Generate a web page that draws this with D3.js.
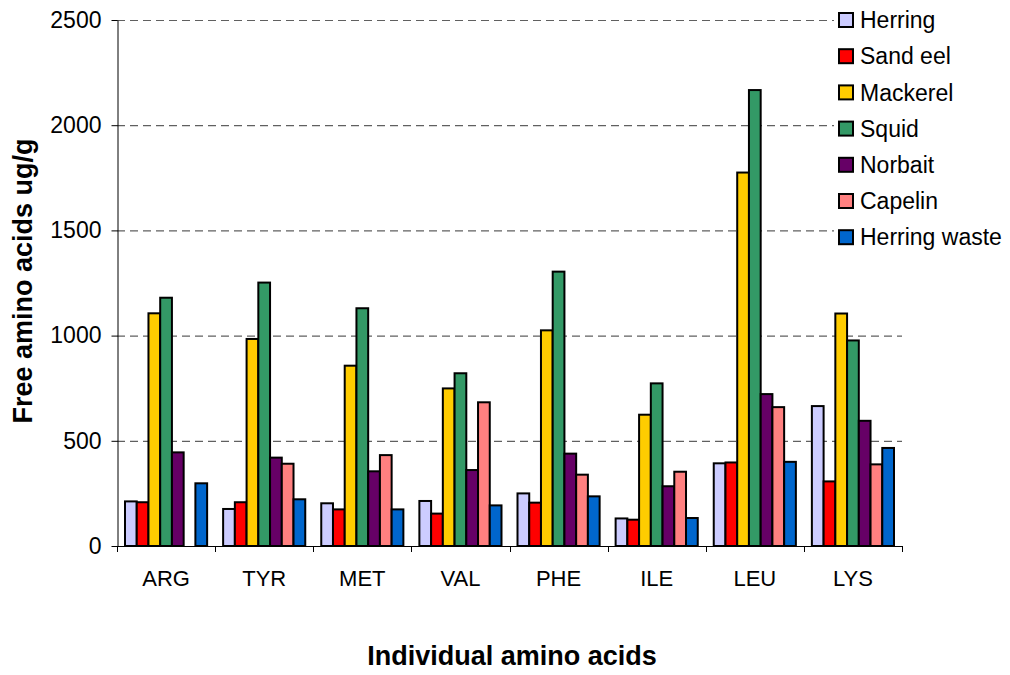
<!DOCTYPE html>
<html>
<head>
<meta charset="utf-8">
<script src="https://cdn.jsdelivr.net/npm/d3@7"></script>
<style>
  body { margin: 0; background: #fff; }
  svg { display: block; font-family: "Liberation Sans", Arial, sans-serif; }
</style>
</head>
<body>
<div id="chart"></div>
<script>
var acids = ["ARG", "TYR", "MET", "VAL", "PHE", "ILE", "LEU", "LYS"];
var baits = ["Herring", "Sand eel", "Mackerel", "Squid", "Norbait", "Capelin", "Herring waste"];
var colours = ["#CCCCFF", "#FF0000", "#FFCC00", "#339966", "#660066", "#FF8080", "#0066CC"];

// one array per bait, in the order of acids
var herring      = [212, 176, 203, 214, 250, 131, 393, 665];
var sandEel      = [208, 208, 174, 154, 206, 125, 397, 307];
var mackerel     = [1106, 984, 857, 749, 1025, 624, 1775, 1105];
var squid        = [1180, 1252, 1130, 821, 1304, 773, 2167, 977];
var norbait      = [445, 420, 355, 361, 439, 284, 722, 595];
var capelin      = [0, 391, 432, 683, 339, 353, 660, 388];
var herringWaste = [298, 222, 174, 193, 236, 133, 400, 466];
var yTicks = [0, 500, 1000, 1500, 2000, 2500];

var series = [herring, sandEel, mackerel, squid, norbait, capelin, herringWaste];

var width = 1010, height = 675;
var plot = {left: 117, right: 902, top: 20, bottom: 546};

var svg = d3.select("#chart").append("svg")
  .attr("width", width).attr("height", height);

var x = d3.scaleBand().domain(acids).range([plot.left, plot.right]);
var xInner = d3.scaleBand().domain(d3.range(baits.length))
  .range([8, x.bandwidth() - 8]);
var y = d3.scaleLinear().domain([0, 2500]).range([plot.bottom, plot.top]);

// dashed grid
svg.append("g").selectAll("line").data(yTicks.slice(1)).enter().append("line")
  .attr("x1", plot.left).attr("x2", plot.right)
  .attr("y1", function(d) { return y(d) + 0.5; })
  .attr("y2", function(d) { return y(d) + 0.5; })
  .attr("stroke", "#606060").attr("stroke-width", 1.2)
  .attr("stroke-dasharray", "8,5");

// bars
var groups = svg.append("g").selectAll("g").data(acids).enter().append("g")
  .attr("transform", function(d) { return "translate(" + x(d) + ",0)"; });

groups.selectAll("rect")
  .data(function(d, i) {
    return series.map(function(s, j) { return {k: j, v: s[i]}; });
  })
  .enter().filter(function(d) { return d.v > 0; }).append("rect")
  .attr("x", function(d) { return xInner(d.k); })
  .attr("width", xInner.bandwidth())
  .attr("y", function(d) { return y(d.v); })
  .attr("height", function(d) { return y(0) - y(d.v); })
  .attr("fill", function(d) { return colours[d.k]; })
  .attr("stroke", "#000").attr("stroke-width", 2);

// y axis
var yAxis = svg.append("g")
  .attr("transform", "translate(" + (plot.left + 0.5) + ",0)")
  .call(d3.axisLeft(y).tickValues(yTicks).tickFormat(d3.format("d"))
    .tickSize(6).tickPadding(10).tickSizeOuter(0));
yAxis.select(".domain").attr("stroke", "#000");
yAxis.selectAll("text").attr("font-size", 23).attr("fill", "#000")
  .attr("font-family", "Liberation Sans, Arial, sans-serif");

// x axis line + separators between groups
svg.append("line")
  .attr("x1", plot.left).attr("x2", plot.right)
  .attr("y1", plot.bottom + 0.5).attr("y2", plot.bottom + 0.5)
  .attr("stroke", "#000");
svg.append("g").selectAll("line")
  .data(acids.map(function(d) { return x(d); }).concat([plot.right]))
  .enter().append("line")
  .attr("x1", function(d) { return Math.round(d) + 0.5; })
  .attr("x2", function(d) { return Math.round(d) + 0.5; })
  .attr("y1", plot.bottom).attr("y2", plot.bottom + 6)
  .attr("stroke", "#000");

svg.append("g").selectAll("text").data(acids).enter().append("text")
  .attr("x", function(d) { return x(d) + x.bandwidth() / 2; })
  .attr("y", 586)
  .attr("text-anchor", "middle").attr("font-size", 22)
  .text(function(d) { return d; });

// axis titles
svg.append("text")
  .attr("x", 512).attr("y", 665)
  .attr("text-anchor", "middle").attr("font-size", 27).attr("font-weight", "bold")
  .text("Individual amino acids");

svg.append("text")
  .attr("transform", "translate(32,281) rotate(-90)")
  .attr("text-anchor", "middle").attr("font-size", 27).attr("font-weight", "bold")
  .text("Free amino acids ug/g");

// legend, white box hides the grid behind it
svg.append("rect")
  .attr("x", 834).attr("y", 1).attr("width", 175).attr("height", 255)
  .attr("fill", "#fff");
var legend = svg.append("g").selectAll("g").data(baits).enter().append("g")
  .attr("transform", function(d, i) { return "translate(839," + (20 + i * 36.2) + ")"; });
legend.append("rect")
  .attr("x", 0).attr("y", -7).attr("width", 14).attr("height", 14)
  .attr("fill", function(d, i) { return colours[i]; })
  .attr("stroke", "#000").attr("stroke-width", 2);
legend.append("text")
  .attr("x", 21).attr("dy", "0.36em").attr("font-size", 23)
  .text(function(d) { return d; });
</script>
</body>
</html>
